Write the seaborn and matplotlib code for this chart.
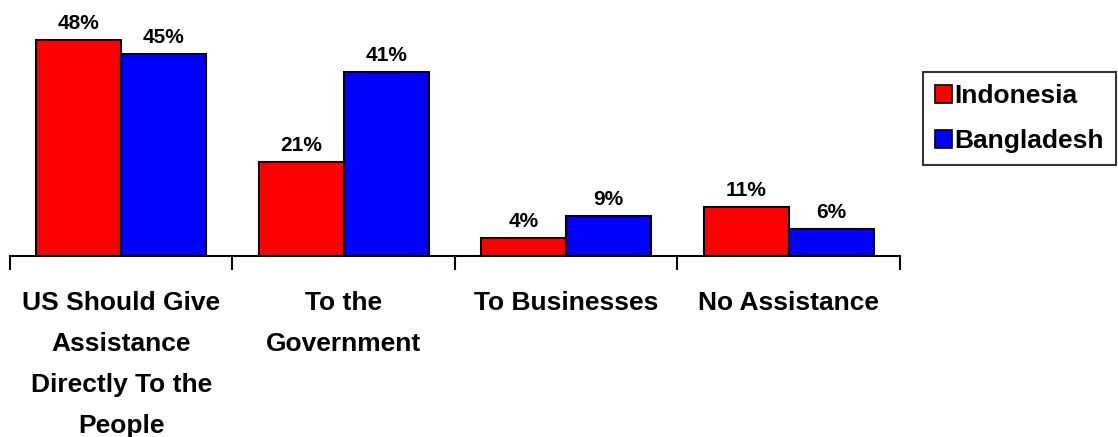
import matplotlib
matplotlib.use("Agg")
import matplotlib.pyplot as plt
import seaborn as sns
import pandas as pd
from matplotlib.patches import Patch

categories = ["US Should Give\nAssistance\nDirectly To the\nPeople",
              "To the\nGovernment", "To Businesses", "No Assistance"]
indonesia = [48, 21, 4, 11]
bangladesh = [45, 41, 9, 6]
series = ["Indonesia", "Bangladesh"]
colors = {"Indonesia": "#FF0000", "Bangladesh": "#0000FF"}

df = pd.DataFrame({
    "cat": categories * 2,
    "val": indonesia + bangladesh,
    "country": [series[0]] * 4 + [series[1]] * 4,
})

sns.set_style("white")
plt.rcParams["font.family"] = ["Liberation Sans", "DejaVu Sans"]
plt.rcParams["text.color"] = "black"
plt.rcParams["xtick.color"] = "black"

fig = plt.figure(figsize=(11.18, 4.37), dpi=100)
ax = fig.add_axes([0.0089, 0.414, 0.796, 0.515])

sns.barplot(data=df, x="cat", y="val", hue="country", palette=colors,
            saturation=1, width=0.765, edgecolor="black", linewidth=1.5,
            ax=ax, legend=False, errorbar=None)

ax.set_ylim(0, 50)
ax.set_xlim(-0.5, 3.5)
for s in ["top", "right", "left"]:
    ax.spines[s].set_visible(False)
ax.spines["bottom"].set_linewidth(1.5)
ax.spines["bottom"].set_color("black")
ax.set_yticks([])
ax.set_xlabel("")
ax.set_ylabel("")

ax.set_xticks(range(4))
ax.set_xticklabels(categories, fontsize=19, fontweight="bold", linespacing=1.9,
                   va="top", color="black")
ax.tick_params(axis="x", which="major", length=0, pad=25, bottom=True)
ax.set_xticks([-0.5, 0.5, 1.5, 2.5, 3.5], minor=True)
ax.tick_params(axis="x", which="minor", length=10, width=1.5, color="black",
               direction="out", bottom=True)

for cont in ax.containers:
    ax.bar_label(cont, labels=[f"{v:.0f}%" for v in cont.datavalues],
                 fontsize=15, fontweight="bold", padding=5, color="black")

handles = [Patch(facecolor=colors[s], edgecolor="black", linewidth=1.2) for s in series]
leg = fig.legend(handles, series, loc="upper left", bbox_to_anchor=(0.826, 0.835),
                 frameon=True, fancybox=False, edgecolor="black",
                 prop={"weight": "bold", "size": 19}, handlelength=0.62,
                 handleheight=0.7, handletextpad=0.1, labelspacing=0.8,
                 borderpad=0.45, borderaxespad=0)
leg.get_frame().set_linewidth(1.5)
for t in leg.get_texts():
    t.set_color("black")

fig.savefig("out.png", dpi=100)
